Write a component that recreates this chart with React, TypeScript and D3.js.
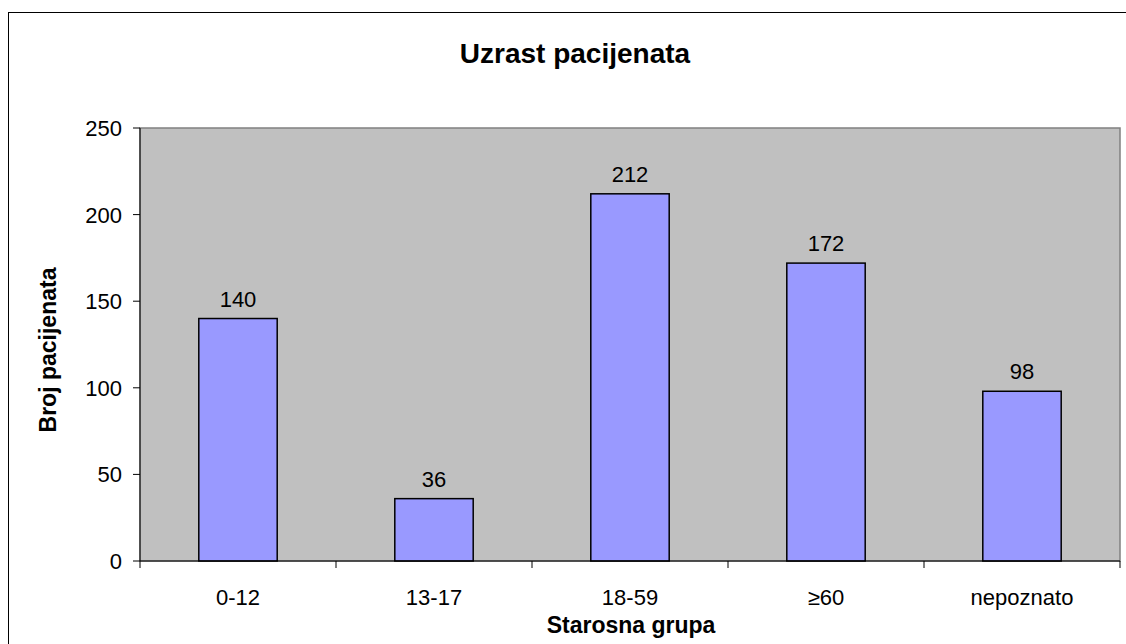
import * as d3 from 'd3';

const categories = ['0-12', '13-17', '18-59', '≥60', 'nepoznato'];
const values = [140, 36, 212, 172, 98];
const yTicks = [0, 50, 100, 150, 200, 250];
const title = 'Uzrast pacijenata';
const xTitle = 'Starosna grupa';
const yTitle = 'Broj pacijenata';

export default function App() {
  const W = 1126;
  const H = 644;
  const left = 140;
  const right = 1120;
  const top = 128;
  const bottom = 561;
  const font = 'Arial, "Liberation Sans", sans-serif';

  const x = d3.scaleBand<string>().domain(categories).range([left, right]).paddingInner(0.6).paddingOuter(0.3);
  const band = d3.scaleBand<string>().domain(categories).range([left, right]);
  const y = d3.scaleLinear().domain([0, 250]).range([bottom, top]);

  return (
    <svg width={W} height={H} style={{ position: 'absolute', left: 0, top: 0 }} fontFamily={font}>
      <rect x={0} y={0} width={W} height={H} fill="#fff" />
      <rect x={8.5} y={12.5} width={W + 20} height={H + 20} fill="none" stroke="#000" strokeWidth={1} />
      <text x={575} y={63} textAnchor="middle" fontSize={28} fontWeight="bold">{title}</text>

      <rect x={left} y={top} width={right - left} height={bottom - top} fill="#C0C0C0" stroke="#808080" strokeWidth={1.5} />

      {categories.map((c, i) => (
        <g key={c}>
          <rect x={x(c)!} y={y(values[i])} width={x.bandwidth()} height={bottom - y(values[i])} fill="#9999FF" stroke="#000" strokeWidth={1.5} />
          <text x={x(c)! + x.bandwidth() / 2} y={y(values[i]) - 12} textAnchor="middle" fontSize={22}>{values[i]}</text>
          <text x={band(c)! + band.bandwidth() / 2} y={605} textAnchor="middle" fontSize={22}>{c}</text>
        </g>
      ))}

      <line x1={left} x2={left} y1={top} y2={bottom} stroke="#000" strokeWidth={1} />
      <line x1={left} x2={right} y1={bottom} y2={bottom} stroke="#000" strokeWidth={1} />
      {yTicks.map(t => (
        <g key={t}>
          <line x1={left - 7} x2={left} y1={y(t)} y2={y(t)} stroke="#000" />
          <text x={122} y={y(t) + 8} textAnchor="end" fontSize={22}>{t}</text>
        </g>
      ))}
      {categories.concat(['end']).map((c, i) => {
        const px = left + i * band.step();
        return <line key={c} x1={px} x2={px} y1={bottom} y2={bottom + 7} stroke="#000" />;
      })}

      <text x={631} y={633} textAnchor="middle" fontSize={23} fontWeight="bold">{xTitle}</text>
      <text transform={`translate(56, 350) rotate(-90)`} textAnchor="middle" fontSize={23} fontWeight="bold">{yTitle}</text>
    </svg>
  );
}
